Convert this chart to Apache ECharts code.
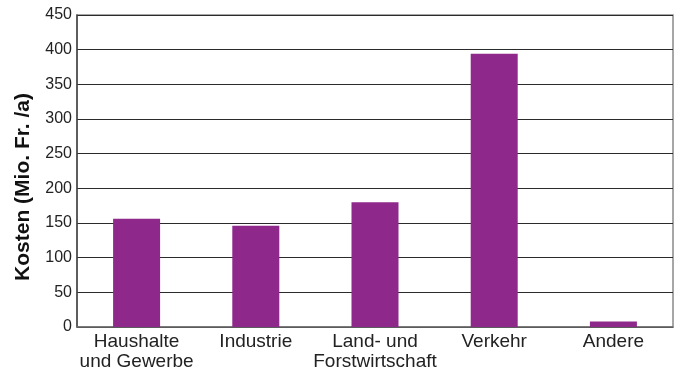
<!DOCTYPE html>
<html>
<head>
<meta charset="utf-8">
<script src="https://cdn.jsdelivr.net/npm/echarts@6/dist/echarts.min.js"></script>
<style>
  html, body { margin: 0; padding: 0; background: #fff; }
  #chart { width: 681px; height: 372px; }
</style>
</head>
<body>
<div id="chart"></div>
<script>
// Cost by sector, in million francs per year
const categories = ['Haushalte\nund Gewerbe', 'Industrie', 'Land- und\nForstwirtschaft', 'Verkehr', 'Andere'];
const costs = [156, 146, 180, 394, 8];
const yTicks = { min: 0, max: 450, interval: 50 };
const yAxisTitle = 'Kosten (Mio. Fr. /a)';

const fontFamily = '"Liberation Sans", Arial, Helvetica, sans-serif';
const chart = echarts.init(document.getElementById('chart'), null, { renderer: 'canvas' });

chart.setOption({
  animation: false,
  backgroundColor: '#ffffff',
  grid: {
    left: 77, right: 8, top: 15, bottom: 43,
    show: true, borderColor: '#8a8a8a', borderWidth: 1.5
  },
  xAxis: {
    type: 'category',
    data: categories,
    axisLine: { show: true, lineStyle: { color: '#6e6e6e', width: 1.5 } },
    axisTick: { show: false },
    axisLabel: {
      interval: 0, margin: 5, color: '#222',
      fontFamily, fontSize: 19, lineHeight: 20
    }
  },
  yAxis: {
    type: 'value',
    min: yTicks.min, max: yTicks.max, interval: yTicks.interval,
    name: yAxisTitle,
    nameLocation: 'middle',
    nameGap: 43,
    nameTextStyle: {
      fontFamily, fontSize: 21, fontWeight: 'bold', color: '#111',
      // nudge the rotated title a little below the plot's middle
      padding: [0, 32, 0, 0]
    },
    axisLine: { show: true, lineStyle: { color: '#444', width: 1.5 } },
    axisTick: { show: false },
    axisLabel: { margin: 5, color: '#222', fontFamily, fontSize: 16 },
    splitLine: { show: true, lineStyle: { color: '#2b2b2b', width: 1.2 } }
  },
  series: [{
    type: 'bar',
    data: costs,
    barWidth: 47,
    itemStyle: { color: '#8e298b' }
  }]
});
</script>
</body>
</html>
